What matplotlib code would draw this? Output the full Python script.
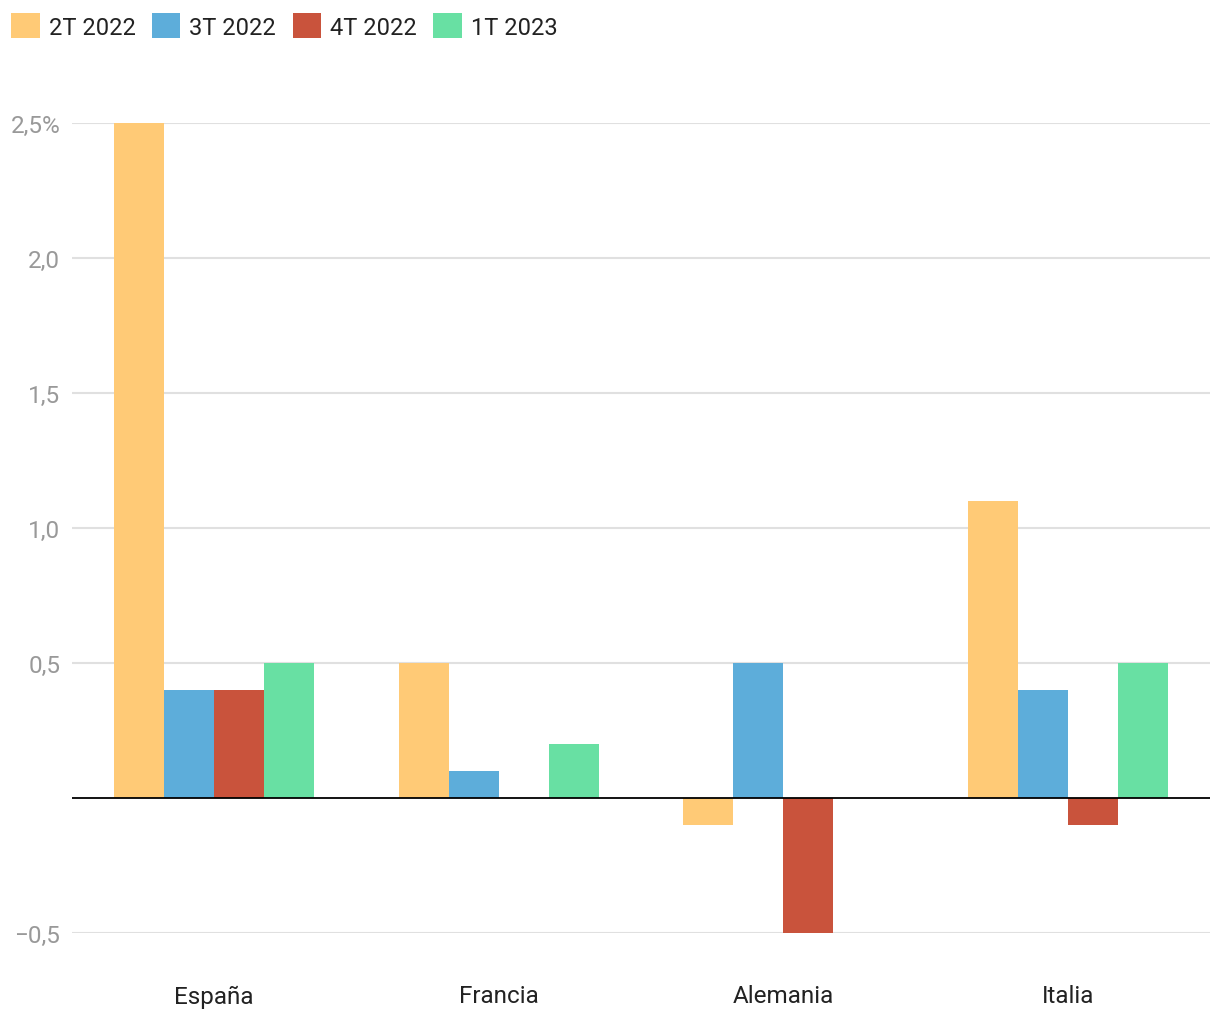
import matplotlib.pyplot as plt
import numpy as np
from matplotlib.patches import Patch
from matplotlib.ticker import FixedLocator

plt.rcParams['font.family'] = ['Roboto', 'DejaVu Sans']

paises = ['España', 'Francia', 'Alemania', 'Italia']
series = ['2T 2022', '3T 2022', '4T 2022', '1T 2023']
t2_2022 = [2.5, 0.5, -0.1, 1.1]
t3_2022 = [0.4, 0.1, 0.5, 0.4]
t4_2022 = [0.4, 0.0, -0.5, -0.1]
t1_2023 = [0.5, 0.2, 0.0, 0.5]
colores = ['#FFCA76', '#5DADDA', '#C9533C', '#68E0A3']
yticks = [-0.5, 0.5, 1.0, 1.5, 2.0, 2.5]
ylabels = ['−0,5', '0,5', '1,0', '1,5', '2,0', '2,5%']

valores = [t2_2022, t3_2022, t4_2022, t1_2023]

fig = plt.figure(figsize=(12.2, 10.2), dpi=100)
ax = fig.add_axes([72/1220, 1 - 934/1020, (1210-72)/1220, (934-124)/1020])

x = np.arange(len(paises))
w = 50/284.5
for i, (vals, col) in enumerate(zip(valores, colores)):
    ax.bar(x + (i - 1.5)*w, vals, width=w, color=col, zorder=2)

ax.set_xlim(-0.5, 3.5)
ax.set_ylim(-0.5, 2.5)
ax.yaxis.set_major_locator(FixedLocator(yticks))
ax.set_yticklabels(ylabels)
ax.set_xticks(x)
ax.set_xticklabels(paises)
ax.grid(axis='y', color='#e0e0e0', linewidth=1.5, zorder=0)
ax.axhline(0, color='black', linewidth=1.3, zorder=3)
for s in ax.spines.values():
    s.set_visible(False)
ax.tick_params(axis='y', length=0, pad=8.5, labelsize=17.5, labelcolor='#999999')
ax.tick_params(axis='x', length=0, pad=37, labelsize=17.5, labelcolor='#222222')

handles = [Patch(facecolor=c, label=s) for c, s in zip(colores, series)]
fig.legend(handles=handles, loc='upper left', bbox_to_anchor=(2/1220, 1 - 5/1020),
           ncol=4, frameon=False, fontsize=17, handlelength=1.2, handleheight=1.2,
           handletextpad=0.38, columnspacing=0.7, borderaxespad=0, labelcolor='#222222')

fig.savefig('out.png', dpi=100)
